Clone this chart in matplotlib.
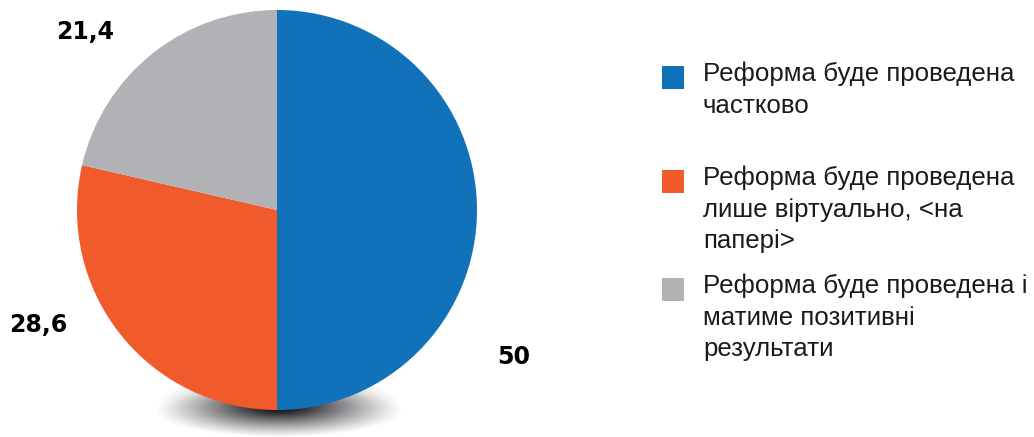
import numpy as np
import matplotlib
matplotlib.use("Agg")
import matplotlib.pyplot as plt
from matplotlib.patches import Rectangle

# ---- data ----
categories = [
    "Реформа буде проведена\nчастково",
    "Реформа буде проведена\nлише віртуально, <на\nпапері>",
    "Реформа буде проведена і\nматиме позитивні\nрезультати",
]
values = [50.0, 28.6, 21.4]
value_labels = ["50", "28,6", "21,4"]
colors = ["#1172BA", "#F15A2B", "#B1B2B6"]

W, H = 1034, 437
fig = plt.figure(figsize=(W / 100, H / 100), dpi=100)
ax = fig.add_axes([0, 0, 1, 1])

cx, cy, r = 277, H - 210, 200

# shadow under the pie
sx, sy, sw, sh = 279, H - 412, 248, 50
gx = np.linspace(-1.0, 1.0, 400)
gy = np.linspace(-1.0, 1.0, 160)
GX, GY = np.meshgrid(gx, gy)
d = np.sqrt(GX ** 2 + ((GY - 0.3) / 1.3) ** 2)
d2 = np.sqrt(GX ** 2 + GY ** 2)
alpha = np.clip(1 - d, 0, 1) ** 1.3 * 0.9 + np.clip(1 - d2, 0, 1) ** 0.8 * 0.3
alpha = np.clip(alpha, 0, 1)
rgba = np.zeros(GX.shape + (4,))
rgba[..., 0] = 0.08
rgba[..., 1] = 0.08
rgba[..., 2] = 0.1
rgba[..., 3] = alpha
ax.imshow(rgba, extent=[sx - sw / 2, sx + sw / 2, sy - sh / 2, sy + sh / 2],
          origin="lower", zorder=1, interpolation="bilinear")

wedges, _ = ax.pie(values, colors=colors, startangle=90, counterclock=False,
                   center=(cx, cy), radius=r, frame=True,
                   wedgeprops=dict(linewidth=0, zorder=2))
ax.set_xlim(0, W)
ax.set_ylim(0, H)
ax.set_aspect("equal")
ax.axis("off")

# value labels
label_pos = [(514, H - 357), (38, H - 325), (85, H - 32)]
for (x, y), t in zip(label_pos, value_labels):
    ax.text(x, y, t, ha="center", va="center", fontsize=17,
            fontweight="bold", family="DejaVu Sans", color="black", zorder=5)

# legend
sq_top = [66, 170, 278]
for top, c, lab in zip(sq_top, colors, categories):
    ax.add_patch(Rectangle((662, H - top - 23), 22, 23, color=c, lw=0, zorder=5))
    ax.text(703, H - top + 4, lab, ha="left", va="top", fontsize=18.6,
            family="Liberation Sans", color="#1a1a1a", linespacing=1.38, zorder=5)

fig.savefig("out.png", dpi=100)
